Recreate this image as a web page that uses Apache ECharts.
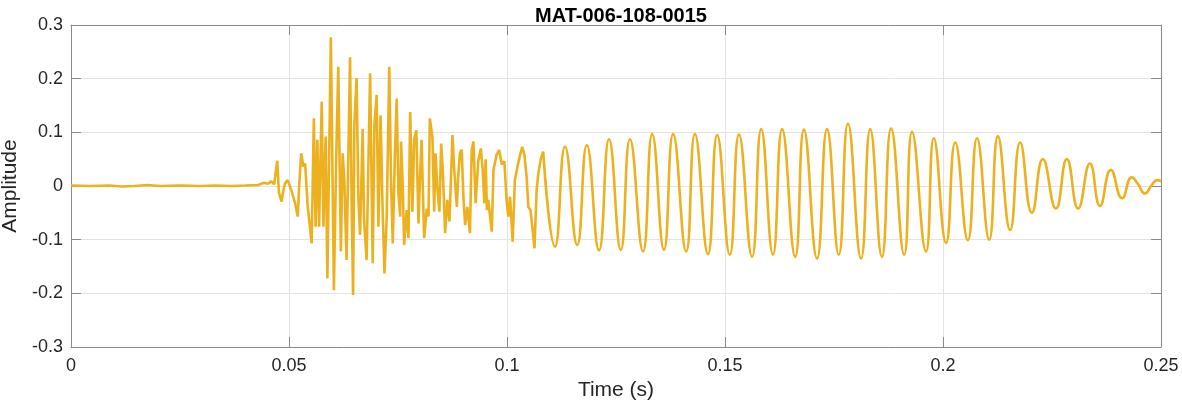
<!DOCTYPE html>
<html>
<head>
<meta charset="utf-8">
<script src="https://cdn.jsdelivr.net/npm/echarts@6.0.0/dist/echarts.min.js"></script>
<style>
html,body{margin:0;padding:0;background:#fff;}
#chart{width:1182px;height:404px;}
</style>
</head>
<body>
<div id="chart"></div>
<script>
// ---- Data ----
const chartTitle = 'MAT-006-108-0015';
const xTitle = 'Time (s)';
const yTitle = 'Amplitude';

// Quiet lead-in and broadband onset (s, amplitude)
const timeOnset = [0,0.0044,0.0089,0.0117,0.0147,0.0174,0.0204,0.0250,0.0296,0.0330,0.0365,0.0399,0.0429,0.0443,0.0452,0.0459,0.0466,
0.0473,0.0477,0.0483,0.0487,0.0491,0.0497,0.0505,0.0514,0.0520,0.0524,0.0528,0.0533,0.0537,0.0543,0.0548,0.0552,0.0557,0.0561,0.0565,
0.0569,0.0575,0.0579,0.0584,0.0588,0.0596,0.0603,0.0608,0.0613,0.0619,0.0623,0.0627,0.0632,0.0640,0.0644,0.0647,0.0650,0.0655,0.0659,
0.0663,0.0669,0.0672,0.0678,0.0686,0.0692,0.0696,0.0701,0.0705,0.0710,0.0714,0.0719,0.0724,0.0730,0.0734,0.0738,0.0743,0.0747,0.0751,
0.0755,0.0757,0.0761,0.0764,0.0770,0.0774,0.0778,0.0783,0.0787,0.0792,0.0797,0.0800,0.0804,0.0810,0.0816,0.0820,0.0823,0.0829,0.0833,
0.0836,0.0840,0.0845,0.0849,0.0853,0.0858,0.0863,0.0868,0.0875,0.0879,0.0885,0.0888,0.0892,0.0896,0.0900,0.0904,0.0909,0.0915,0.0919,
0.0923,0.0928,0.0934,0.0940,0.0944,0.0948,0.0951,0.0954,0.0957,0.0965,0.0969,0.0976,0.0982,0.0988,0.0994,0.0999,0.1003,0.1007,0.1013,
0.1018,0.1024,0.1030,0.1035,0.1040,0.1045,0.1049,0.1054,0.1058,0.1063,0.1068,0.1072,0.1078,0.1083];
const ampOnset = [0.001,0.000,0.001,-0.001,0.000,0.002,0.000,0.001,0.000,0.001,0.000,0.001,0.002,0.006,0.004,0.009,0.003,
0.047,-0.013,-0.029,-0.008,0.005,0.011,-0.007,-0.032,-0.057,0.010,0.061,0.036,0.042,-0.039,-0.076,-0.107,0.126,-0.076,0.086,
-0.076,0.157,-0.076,0.092,-0.172,0.277,-0.194,0.042,0.222,-0.122,0.061,0.010,-0.138,0.240,-0.050,-0.203,0.117,0.201,-0.020,
-0.091,0.106,-0.060,-0.138,0.210,-0.144,0.114,0.170,-0.076,0.132,-0.020,-0.163,-0.063,0.222,0.011,-0.107,0.061,0.163,-0.014,
-0.057,0.083,-0.001,-0.110,-0.045,-0.097,0.138,-0.048,0.086,0.104,-0.070,0.005,0.086,-0.097,-0.042,-0.057,0.126,0.091,-0.048,
0.061,-0.001,-0.048,0.079,0.024,-0.088,-0.026,-0.066,0.095,0.030,-0.039,0.017,0.061,0.068,-0.020,-0.073,-0.039,-0.088,0.067,
0.083,-0.032,0.045,0.070,0.033,-0.032,0.050,-0.045,-0.026,-0.085,0.030,0.058,0.067,0.040,0.046,-0.026,-0.057,-0.020,-0.104,
0.011,0.036,0.058,0.073,0.058,0.017,-0.039,-0.045,-0.076,-0.116,-0.007,0.024,0.052,0.064];

// Ringing part: alternating peaks and troughs (s, amplitude)
const timeRing = [0.1083,0.1110,0.1133,0.1161,0.1183,0.1211,0.1234,0.1261,0.1282,0.1312,0.1333,0.1360,0.1381,0.1411,0.1431,
0.1461,0.1482,0.1511,0.1532,0.1562,0.1583,0.1610,0.1631,0.1661,0.1681,0.1711,0.1734,0.1761,0.1782,0.1812,0.1833,0.1860,0.1881,
0.1911,0.1929,0.1961,0.1979,0.2007,0.2028,0.2057,0.2078,0.2106,0.2126,0.2154,0.2177,0.2204,0.2229,0.2259,0.2284,0.2310,0.2337,
0.2360,0.2385,0.2411,0.2433,0.2447,0.2463,0.2479,0.2491,0.2500];
const ampRing = [0.064,-0.113,0.073,-0.110,0.076,-0.120,0.087,-0.119,0.087,-0.122,0.097,-0.119,0.097,-0.122,0.097,
-0.127,0.095,-0.128,0.096,-0.132,0.106,-0.128,0.106,-0.132,0.105,-0.135,0.106,-0.128,0.116,-0.135,0.106,-0.132,0.107,
-0.128,0.101,-0.122,0.089,-0.106,0.081,-0.101,0.089,-0.100,0.093,-0.082,0.081,-0.050,0.050,-0.042,0.050,-0.042,0.042,
-0.037,0.030,-0.023,0.016,0.004,-0.014,0.002,0.011,0.009];

const xTicks = [0, 0.05, 0.1, 0.15, 0.2, 0.25];
const yTicks = [-0.3, -0.2, -0.1, 0, 0.1, 0.2, 0.3];

// ---- Chart ----
const lineColor = '#EDB120';
const axisColor = '#8a8a8a';
const textColor = '#262626';
const fontFam = '"Liberation Sans", Arial, sans-serif';

const zip = (a, b) => a.map((v, i) => [v, b[i]]);
const fmt = v => { const r = Math.round(v * 100) / 100; return (Object.is(r, -0) || r === 0) ? '0' : String(r); };

const chart = echarts.init(document.getElementById('chart'), null, {renderer: 'canvas'});
const baseX = {
  type: 'value', min: xTicks[0], max: xTicks[xTicks.length - 1], interval: 0.05,
  axisLine: {show: true, onZero: false, lineStyle: {color: axisColor, width: 1}},
  axisTick: {show: true, inside: true, length: 10, lineStyle: {color: axisColor}},
  splitLine: {show: false}
};
const baseY = {
  type: 'value', min: yTicks[0], max: yTicks[yTicks.length - 1], interval: 0.1,
  axisLine: {show: true, onZero: false, lineStyle: {color: axisColor, width: 1}},
  axisTick: {show: true, inside: true, length: 10, lineStyle: {color: axisColor}},
  splitLine: {show: false}
};
chart.setOption({
  animation: false,
  backgroundColor: '#ffffff',
  title: {
    text: chartTitle, left: 616, top: 1, textAlign: 'center',
    textStyle: {fontFamily: fontFam, fontWeight: 'bold', fontSize: 20, color: '#000'}
  },
  grid: {left: 71, right: 21, top: 25, bottom: 57, containLabel: false, outerBoundsMode: 'none'},
  xAxis: [
    Object.assign({}, baseX, {
      position: 'bottom',
      name: xTitle, nameLocation: 'middle', nameGap: 32,
      nameTextStyle: {fontFamily: fontFam, fontSize: 21, color: textColor},
      axisLabel: {show: true, margin: 10, fontFamily: fontFam, fontSize: 18, color: textColor, formatter: fmt},
      splitLine: {show: true, lineStyle: {color: '#e3e3e3', width: 1}}
    }),
    Object.assign({}, baseX, {position: 'top', axisLabel: {show: false}})
  ],
  yAxis: [
    Object.assign({}, baseY, {
      position: 'left',
      name: yTitle, nameLocation: 'middle', nameGap: 47, nameRotate: 90,
      nameTextStyle: {fontFamily: fontFam, fontSize: 21, color: textColor},
      axisLabel: {show: true, margin: 8, fontFamily: fontFam, fontSize: 18, color: textColor, formatter: fmt},
      splitLine: {show: true, lineStyle: {color: '#e3e3e3', width: 1}}
    }),
    Object.assign({}, baseY, {position: 'right', axisLabel: {show: false}})
  ],
  series: [
    {
      name: 'onset', type: 'line', xAxisIndex: 0, yAxisIndex: 0,
      data: zip(timeOnset, ampOnset), showSymbol: false, smooth: false, sampling: null,
      lineStyle: {color: lineColor, width: 2.6}, z: 3
    },
    {
      name: 'ringing', type: 'line', xAxisIndex: 0, yAxisIndex: 0,
      data: zip(timeRing, ampRing), showSymbol: false, smooth: 0.5, sampling: null,
      lineStyle: {color: lineColor, width: 2.6}, z: 3
    }
  ]
});
</script>
</body>
</html>
